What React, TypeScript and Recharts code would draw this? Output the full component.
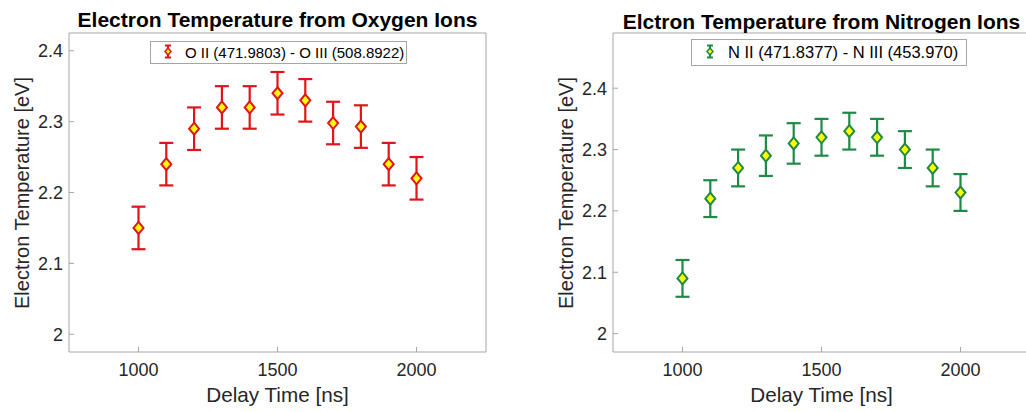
import React from 'react';
import { ScatterChart, Scatter, XAxis, YAxis, ErrorBar, Legend } from 'recharts';

const delays = [1000, 1100, 1200, 1300, 1400, 1500, 1600, 1700, 1800, 1900, 2000];
const oxygenTemp = [2.15, 2.24, 2.29, 2.32, 2.32, 2.34, 2.33, 2.298, 2.293, 2.24, 2.22];
const oxygenErr = [0.03, 0.03, 0.03, 0.03, 0.03, 0.03, 0.03, 0.03, 0.03, 0.03, 0.03];
const nitrogenTemp = [2.09, 2.22, 2.27, 2.29, 2.31, 2.32, 2.33, 2.32, 2.3, 2.27, 2.23];
const nitrogenErr = [0.03, 0.03, 0.03, 0.033, 0.033, 0.03, 0.03, 0.03, 0.03, 0.03, 0.03];
const xTicks = [1000, 1500, 2000];
const yTicks = [2, 2.1, 2.2, 2.3, 2.4];
const oxygenTitle = 'Electron Temperature from Oxygen Ions';
const nitrogenTitle = 'Elctron Temperature from Nitrogen Ions';
const oxygenLabel = 'O II (471.9803) - O III (508.8922)';
const nitrogenLabel = 'N II (471.8377) - N III (453.970)';
const xLabel = 'Delay Time [ns]';
const yLabel = 'Electron Temperature [eV]';

const oxygenData = delays.map((d, i) => ({ delay: d, temp: oxygenTemp[i], err: oxygenErr[i] }));
const nitrogenData = delays.map((d, i) => ({ delay: d, temp: nitrogenTemp[i], err: nitrogenErr[i] }));

const FONT = '"Liberation Sans", Arial, Helvetica, sans-serif';
const AXIS = '#a6a6a6';
const TEXT = '#262626';

const makeDiamond = (color: string) => (props: any) => {
  const { cx, cy } = props;
  if (cx == null || cy == null) return <g />;
  return (
    <polygon
      points={`${cx},${cy - 6} ${cx + 5},${cy} ${cx},${cy + 6} ${cx - 5},${cy}`}
      fill="#ffff00"
      stroke={color}
      strokeWidth={2}
    />
  );
};

type PanelProps = {
  left: number;
  width: number;
  marginLeft: number;
  marginRight: number;
  yAxisWidth: number;
  yDomain: [number, number];
  data: any[];
  color: string;
  title: string;
  titleTop: number;
  label: string;
  legendLeft: number;
  legendTop: number;
  legendWidth: number;
  legendHeight: number;
  legendFont: number;
  legendIconWidth: number;
  yLabelCenterX: number;
};

function Panel(p: PanelProps) {
  const plotLeft = p.left + p.marginLeft + p.yAxisWidth;
  const plotRight = p.left + p.width - p.marginRight - 1;
  const plotCenter = (plotLeft + plotRight) / 2;
  const tickStyle = { fill: TEXT, fontSize: 18, fontFamily: FONT };
  return (
    <>
      <div style={{ position: 'absolute', left: p.left, top: 0 }}>
        <ScatterChart
          width={p.width}
          height={412}
          margin={{ top: 32, right: p.marginRight, bottom: 11, left: p.marginLeft }}
        >
          <XAxis
            xAxisId="b"
            dataKey="delay"
            type="number"
            domain={[750, 2250]}
            ticks={xTicks}
            height={49}
            tickSize={-5}
            tickMargin={16}
            axisLine={{ stroke: AXIS }}
            tickLine={{ stroke: AXIS }}
            tick={tickStyle}
            allowDataOverflow
          />
          <XAxis
            xAxisId="t"
            orientation="top"
            type="number"
            domain={[750, 2250]}
            ticks={xTicks}
            height={1}
            tickSize={-5}
            axisLine={{ stroke: AXIS }}
            tickLine={{ stroke: AXIS }}
            tick={false}
            allowDataOverflow
          />
          <YAxis
            yAxisId="l"
            dataKey="temp"
            type="number"
            domain={p.yDomain}
            ticks={yTicks}
            width={p.yAxisWidth}
            tickSize={-5}
            tickMargin={11}
            axisLine={{ stroke: AXIS }}
            tickLine={{ stroke: AXIS }}
            tick={tickStyle}
            allowDataOverflow
          />
          <YAxis
            yAxisId="r"
            orientation="right"
            type="number"
            domain={p.yDomain}
            ticks={yTicks}
            width={1}
            tickSize={-5}
            axisLine={{ stroke: AXIS }}
            tickLine={{ stroke: AXIS }}
            tick={false}
            allowDataOverflow
          />
          <Legend
            layout="horizontal"
            verticalAlign="middle"
            align="center"
            wrapperStyle={{ left: p.legendLeft - p.left, top: p.legendTop, width: p.legendWidth }}
            content={() => (
              <div
                style={{
                  boxSizing: 'border-box',
                  width: p.legendWidth,
                  height: p.legendHeight,
                  border: `1px solid ${AXIS}`,
                  background: '#fff',
                  display: 'flex',
                  alignItems: 'center',
                  fontFamily: FONT,
                  fontSize: p.legendFont,
                  color: '#000',
                  whiteSpace: 'nowrap',
                }}
              >
                <svg width={p.legendIconWidth} height={p.legendHeight - 2} style={{ flex: 'none' }}>
                  {(() => {
                    const cx = p.legendIconWidth / 2;
                    const cy = (p.legendHeight - 2) / 2 - 1;
                    return (
                      <g>
                        <line x1={cx} y1={cy - 6} x2={cx} y2={cy + 6} stroke={p.color} strokeWidth={2} />
                        <line x1={cx - 3} y1={cy - 6} x2={cx + 3} y2={cy - 6} stroke={p.color} strokeWidth={2} />
                        <line x1={cx - 3} y1={cy + 6} x2={cx + 3} y2={cy + 6} stroke={p.color} strokeWidth={2} />
                        <polygon
                          points={`${cx},${cy - 3.5} ${cx + 3},${cy} ${cx},${cy + 3.5} ${cx - 3},${cy}`}
                          fill="#ffff00"
                          stroke={p.color}
                          strokeWidth={1.5}
                        />
                      </g>
                    );
                  })()}
                </svg>
                <span>{p.label}</span>
              </div>
            )}
          />
          <Scatter
            xAxisId="b"
            yAxisId="l"
            data={p.data}
            dataKey="temp"
            name={p.label}
            isAnimationActive={false}
            shape={makeDiamond(p.color)}
          >
            <ErrorBar dataKey="err" direction="y" width={7} strokeWidth={2.2} stroke={p.color} isAnimationActive={false} />
          </Scatter>
        </ScatterChart>
      </div>
      <div
        style={{
          position: 'absolute',
          left: plotCenter - 300,
          width: 600,
          top: p.titleTop,
          textAlign: 'center',
          fontFamily: FONT,
          fontWeight: 'bold',
          fontSize: 21,
          lineHeight: '21px',
          color: '#000',
          whiteSpace: 'nowrap',
        }}
      >
        {p.title}
      </div>
      <div
        style={{
          position: 'absolute',
          left: plotCenter - 150,
          width: 300,
          top: 383.5,
          textAlign: 'center',
          fontFamily: FONT,
          fontSize: 20.7,
          lineHeight: '21px',
          color: TEXT,
          whiteSpace: 'nowrap',
        }}
      >
        {xLabel}
      </div>
      <div
        style={{
          position: 'absolute',
          left: p.yLabelCenterX - 150,
          top: 192.5 - 10,
          width: 300,
          height: 20,
          transform: 'rotate(-90deg)',
          transformOrigin: '150px 10px',
          textAlign: 'center',
          fontFamily: FONT,
          fontSize: 20,
          lineHeight: '20px',
          color: TEXT,
          whiteSpace: 'nowrap',
        }}
      >
        {yLabel}
      </div>
    </>
  );
}

export default function App() {
  return (
    <div
      style={{
        position: 'absolute',
        left: 0,
        top: 0,
        width: 1026,
        height: 412,
        overflow: 'hidden',
        background: '#fff',
      }}
    >
      <Panel
        left={0}
        width={500}
        marginLeft={19}
        marginRight={13}
        yAxisWidth={50}
        yDomain={[1.975, 2.425]}
        data={oxygenData}
        color="#e0141a"
        title={oxygenTitle}
        titleTop={9}
        label={oxygenLabel}
        legendLeft={150}
        legendTop={41}
        legendWidth={257}
        legendHeight={23}
        legendFont={15}
        legendIconWidth={34}
        yLabelCenterX={21.5}
      />
      <Panel
        left={520}
        width={520}
        marginLeft={33}
        marginRight={9}
        yAxisWidth={60}
        yDomain={[1.97, 2.49]}
        data={nitrogenData}
        color="#1f8a45"
        title={nitrogenTitle}
        titleTop={10.5}
        label={nitrogenLabel}
        legendLeft={691}
        legendTop={39}
        legendWidth={276}
        legendHeight={27}
        legendFont={16.5}
        legendIconWidth={36}
        yLabelCenterX={566}
      />
    </div>
  );
}
